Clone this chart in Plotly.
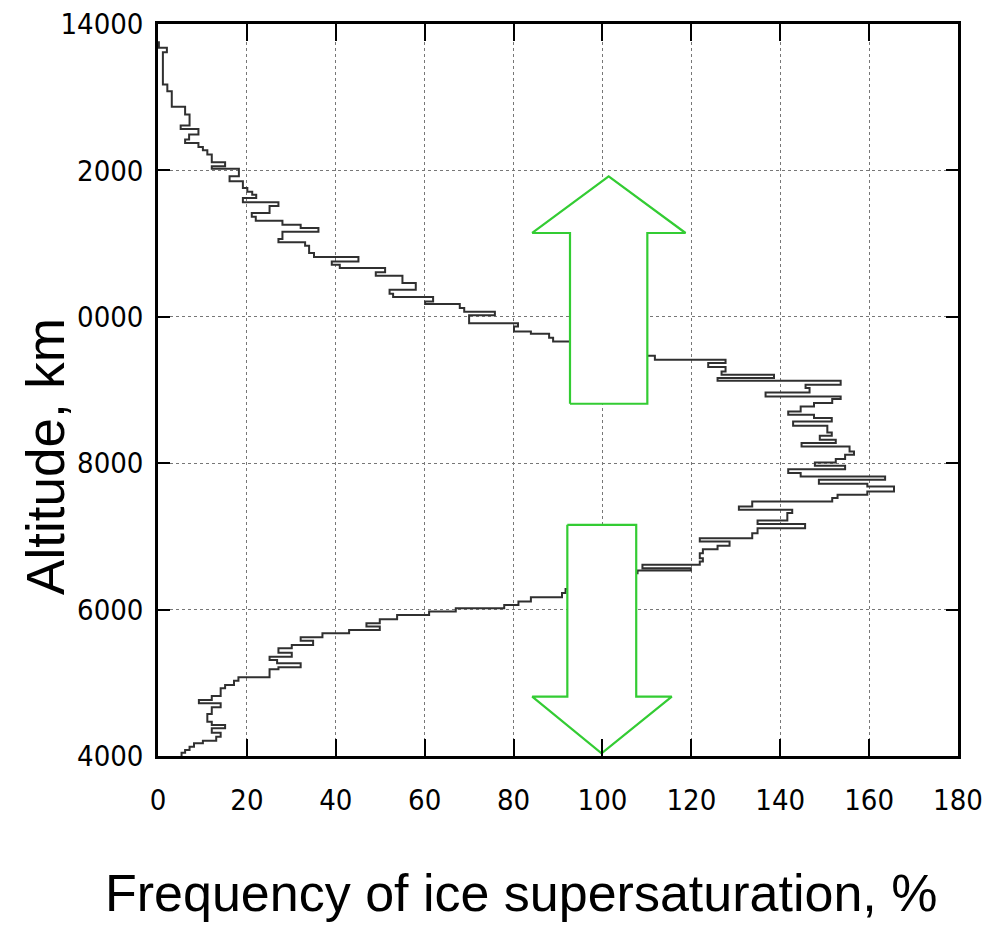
import plotly.graph_objects as go

# Step profile: upper edge of each altitude bin (m) and frequency (%) in that bin
altitude = [13765, 13674, 13614, 13173, 13081, 12868, 12762, 12612, 12567, 12489,
            12421, 12376, 12321, 12274, 12216, 12110, 12056, 12024, 11919, 11851,
            11760, 11710, 11669, 11624, 11564, 11512, 11419, 11368, 11313, 11259,
            11214, 11163, 11063, 11017, 10972, 10872, 10817, 10757, 10712, 10667,
            10607, 10562, 10462, 10370, 10316, 10270, 10210, 10175, 10120, 10069,
            10022, 9912, 9869, 9800, 9769, 9714, 9664, 9564, 9523, 9468,
            9413, 9368, 9314, 9253, 9208, 9163, 9126, 9072, 9026, 8966,
            8912, 8876, 8821, 8775, 8707, 8661, 8616, 8570, 8511, 8420,
            8374, 8320, 8275, 8228, 8160, 8115, 8056, 8009, 7964, 7919,
            7865, 7818, 7773, 7718, 7681, 7613, 7568, 7523, 7476, 7408,
            7363, 7318, 7217, 7171, 7113, 7044, 6976, 6930, 6871, 6826,
            6771, 6703, 6656, 6611, 6566, 6533, 6498, 6379, 6283, 6228,
            6169, 6109, 6064, 6019, 5973, 5927, 5869, 5814, 5768, 5722,
            5677, 5623, 5576, 5517, 5472, 5412, 5357, 5312, 5267, 5213,
            5185, 5076, 5029, 4971, 4925, 4820, 4766, 4720, 4666, 4574,
            4469, 4424, 4379, 4319, 4264, 4209, 4174, 4127, 4082, 4045, 4000]

frequency = [0.2, 2.0, 1.1, 2.1, 3.1, 6.1, 7.1, 5.1, 9.1, 7.0,
             6.1, 9.1, 10.1, 11.1, 12.1, 15.1, 12.1, 18.2, 16.1, 19.1,
             20.1, 21.2, 22.1, 19.1, 27.1, 25.1, 21.1, 22.0, 28.0, 32.1,
             36.1, 28.0, 27.1, 33.1, 34.0, 35.1, 45.1, 39.1, 40.9, 51.1,
             49.0, 55.0, 58.0, 52.1, 52.9, 61.9, 60.1, 67.9, 68.9, 75.8,
             70.0, 81.0, 80.1, 83.9, 88.0, 88.9, 97.0, 106.0, 110.0, 111.8,
             127.7, 123.8, 127.7, 126.8, 138.6, 125.9, 153.6, 145.7, 146.6, 136.7,
             153.6, 151.7, 147.6, 144.6, 141.8, 147.6, 151.6, 142.9, 150.6, 151.6,
             148.9, 152.5, 144.8, 155.6, 156.6, 154.6, 152.5, 147.8, 154.6, 141.8,
             144.6, 163.6, 148.7, 159.6, 165.6, 159.6, 152.9, 151.7, 133.7, 130.7,
             142.7, 141.6, 134.9, 145.6, 134.9, 133.7, 121.9, 128.6, 125.9, 122.6,
             121.9, 122.6, 121.9, 109.0, 119.9, 107.9, 99.2, 93.6, 91.7, 90.9,
             83.9, 81.1, 77.9, 67.0, 61.0, 53.8, 49.9, 46.9, 49.9, 43.0,
             37.0, 32.1, 34.9, 30.1, 27.1, 30.1, 25.1, 26.8, 32.1, 27.1,
             25.1, 18.1, 17.1, 15.1, 14.1, 12.1, 9.2, 14.1, 12.1, 11.1,
             12.1, 15.1, 12.1, 14.1, 13.1, 10.1, 8.1, 7.1, 6.1, 5.3, 5.3]

# Arrow outlines (frequency %, altitude m)
up_arrow_x = [92.7, 92.7, 84.2, 101.4, 118.7, 110.1, 110.1, 92.7]
up_arrow_y = [8812, 11145, 11145, 11919, 11145, 11145, 8812, 8812]
down_arrow_x = [92.1, 92.1, 84.2, 99.8, 115.6, 107.6, 107.6, 92.1]
down_arrow_y = [7158, 4811, 4811, 4037, 4811, 4811, 7158, 7158]

x_tickvals = [0, 20, 40, 60, 80, 100, 120, 140, 160, 180]
x_ticktext = ["0", "20", "40", "60", "80", "100", "120", "140", "160", "180"]
y_tickvals = [4000, 6000, 8000, 10000, 12000, 14000]
y_ticktext = ["4000", "6000", "8000", "0000", "2000", "14000"]

n = min(len(altitude), len(frequency))

fig = go.Figure()
fig.add_trace(go.Scatter(
    x=frequency[:n], y=altitude[:n], mode="lines", line_shape="vh",
    line=dict(color="#303030", width=2), hoverinfo="skip", showlegend=False))
for ax_, ay_ in ((up_arrow_x, up_arrow_y), (down_arrow_x, down_arrow_y)):
    fig.add_trace(go.Scatter(
        x=ax_, y=ay_, mode="lines", fill="toself", fillcolor="white",
        line=dict(color="#33cc33", width=2.2), hoverinfo="skip", showlegend=False))

tick_font = dict(family="Liberation Sans Narrow, DejaVu Sans Condensed, Arial Narrow, sans-serif",
                 size=29, color="black")

fig.update_xaxes(range=[0, 180], tickvals=x_tickvals, ticktext=x_ticktext,
                 showline=True, linecolor="black", linewidth=2.5, mirror="ticks",
                 ticks="inside", ticklen=17, tickwidth=2, tickcolor="black",
                 showgrid=True, gridcolor="#777777", gridwidth=1.2, griddash="dot",
                 zeroline=False, tickfont=tick_font, ticklabelstandoff=16)
fig.update_yaxes(range=[4000, 14000], tickvals=y_tickvals, ticktext=y_ticktext,
                 showline=True, linecolor="black", linewidth=2.5, mirror="ticks",
                 ticks="inside", ticklen=12, tickwidth=2, tickcolor="black",
                 showgrid=True, gridcolor="#777777", gridwidth=1.2, griddash="dot",
                 zeroline=False, tickfont=tick_font, ticklabelstandoff=6)

title_font = dict(family="Liberation Sans, Arial, sans-serif", size=52, color="black")
fig.add_annotation(text="Altitude, km", xref="paper", yref="paper",
                   x=-0.14, y=0.41, textangle=-90, showarrow=False,
                   xanchor="center", yanchor="middle",
                   font=dict(family="Liberation Sans, Arial, sans-serif", size=53, color="black"))
fig.add_annotation(text="Frequency of ice supersaturation, %", xref="paper", yref="paper",
                   x=0.454, y=-0.187, showarrow=False,
                   xanchor="center", yanchor="middle", font=title_font)

fig.update_layout(width=995, height=927, plot_bgcolor="white", paper_bgcolor="white",
                  margin=dict(l=158, r=37, t=24, b=171, autoexpand=False),
                  showlegend=False)

fig.write_html("out.html", config={"displayModeBar": False},
               post_script="document.body.style.margin='0px';")
